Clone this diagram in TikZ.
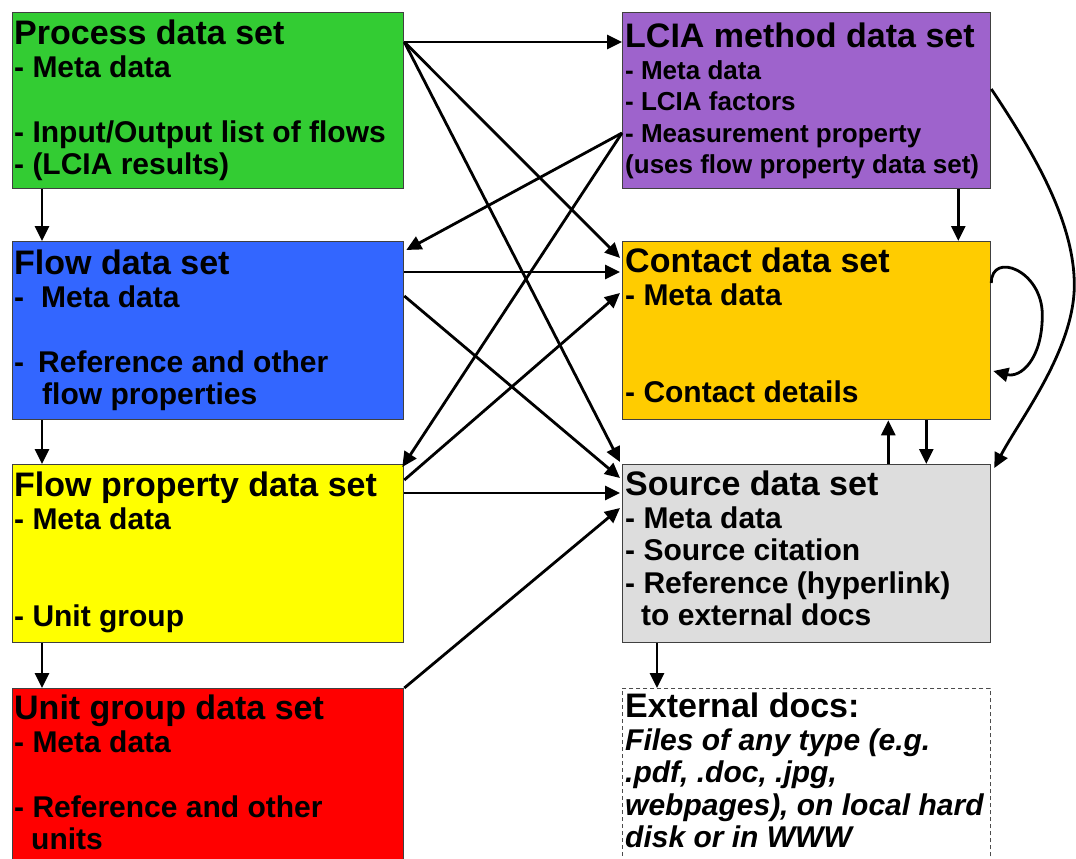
\documentclass[tikz,border=0pt]{standalone}
\usepackage{fontspec}
\setmainfont{Liberation Sans}
\usetikzlibrary{arrows.meta,positioning}
\definecolor{procgreen}{HTML}{33CC33}
\definecolor{flowblue}{HTML}{3366FF}
\definecolor{propyellow}{HTML}{FFFF00}
\definecolor{unitred}{HTML}{FF0000}
\definecolor{lciapurple}{HTML}{9E63CC}
\definecolor{contactgold}{HTML}{FFCC00}
\definecolor{sourcegray}{HTML}{DDDDDD}
\newcommand{\dstitle}[1]{{\fontsize{34}{34}\selectfont #1}}

\begin{document}
\begin{tikzpicture}[x=1pt,y=1pt]
                \tikzstyle{dsbox}=[draw=black!75, line width=1.3pt, anchor=north west, inner sep=0pt, minimum width=391pt]
                \tikzstyle{rbox}=[dsbox, minimum width=368pt]
                \tikzstyle{dstext}=[inner sep=0pt, align=left, font=\fontsize{30}{32.5}\selectfont\bfseries]
                \tikzstyle{arr}=[black, line width=2.8pt, -{Triangle[length=15pt,width=14pt]}]
                \useasboundingbox (0,0) rectangle (1076,-859);
                \node [dsbox, fill=procgreen, minimum height=176pt] (proc) at (12,-12) {};
                \node [dsbox, fill=flowblue, minimum height=178pt] (flow) at (12,-241) {};
                \node [dsbox, fill=propyellow, minimum height=178pt] (fprop) at (12,-464) {};
                \node [dsbox, fill=unitred, minimum height=185pt] (unit) at (12,-688) {};
                \node [rbox, fill=lciapurple, minimum height=176pt] (lcia) at (622,-12) {};
                \node [rbox, fill=contactgold, minimum height=178pt] (contact) at (622,-241) {};
                \node [rbox, fill=sourcegray, minimum height=178pt] (source) at (622,-464) {};
                \node [rbox, draw=black!70, line width=0.9pt, dash pattern=on 4pt off 3pt, minimum height=185pt] (ext) at (622,-688) {};
                \node [dstext, below right=8pt and 2pt of proc.north west] (proctxt) {\dstitle{Process data set}\\- Meta data\\[32.5pt]- Input/Output list of flows\\- (LCIA results)};
                \node [dstext, below right=9pt and 2pt of flow.north west] (flowtxt) {\dstitle{Flow data set}\\-\hspace{17pt}Meta data\\[32.5pt]-\hspace{14pt}Reference and other\\\hspace{28pt}flow properties};
                \node [dstext, below right=8pt and 2pt of fprop.north west] (fproptxt) {\dstitle{Flow property data set}\\- Meta data\\[65pt]- Unit group};
                \node [dstext, below right=7pt and 2pt of unit.north west] (unittxt) {\dstitle{Unit group data set}\\- Meta data\\[32.5pt]- Reference and other\\\hspace{17pt}units};
                \node [dstext, font=\fontsize{26}{31.5}\selectfont\bfseries, below right=11pt and 3pt of lcia.north west] (lciatxt) {\dstitle{LCIA method data set}\\- Meta data\\- LCIA factors\\- Measurement property\\(uses flow property data set)};
                \node [dstext, below right=7pt and 3pt of contact.north west] (contacttxt) {\dstitle{Contact data set}\\- Meta data\\[65pt]- Contact details};
                \node [dstext, below right=7pt and 3pt of source.north west] (sourcetxt) {\dstitle{Source data set}\\- Meta data\\- Source citation\\- Reference (hyperlink)\\\hspace{16pt}to external docs};
                \node [dstext, below right=5pt and 3pt of ext.north west] (exttxt) {\dstitle{External docs:}\\\itshape Files of any type (e.g.\\\itshape .pdf, .doc, .jpg,\\\itshape webpages), on local hard\\\itshape disk or in WWW};
                \draw [arr] ([xshift=30pt]proc.south west) -- ([xshift=30pt]flow.north west);
                \draw [arr] ([xshift=30pt]flow.south west) -- ([xshift=30pt]fprop.north west);
                \draw [arr] ([xshift=30pt]fprop.south west) -- ([xshift=30pt]unit.north west);
                \draw [arr] ([yshift=-30pt]proc.north east) -- ([yshift=-30pt]lcia.north west);
                \draw [arr] ([yshift=-30pt]proc.north east) -- ([xshift=-2pt,yshift=-17pt]contact.north west);
                \draw [arr] ([yshift=-30pt]proc.north east) -- ([xshift=-2pt,yshift=2pt]source.north west);
                \draw [arr] ([yshift=-121pt]lcia.north west) -- ([xshift=2pt,yshift=-9pt]flow.north east);
                \draw [arr] ([yshift=-121pt]lcia.north west) -- ([xshift=-2pt,yshift=-3pt]fprop.north east);
                \draw [arr] ([yshift=-31pt]flow.north east) -- ([xshift=-2pt,yshift=-31pt]contact.north west);
                \draw [arr] ([yshift=-55pt]flow.north east) -- ([xshift=-2pt,yshift=-14pt]source.north west);
                \draw [arr] ([yshift=-16pt]fprop.north east) -- ([xshift=-2pt,yshift=-52pt]contact.north west);
                \draw [arr] ([yshift=-29pt]fprop.north east) -- ([xshift=-2pt,yshift=-29pt]source.north west);
                \draw [arr] (unit.north east) -- ([xshift=-2pt,yshift=-44pt]source.north west);
                \draw [arr] ([xshift=-33pt]lcia.south east) -- ([xshift=-33pt]contact.north east);
                \draw [arr] ([xshift=-103pt]source.north east) -- ([xshift=-103pt]contact.south east);
                \draw [arr] ([xshift=-65pt]contact.south east) -- ([xshift=-65pt]source.north east);
                \draw [arr] ([xshift=35pt]source.south west) -- ([xshift=35pt]ext.north west);
                \draw [arr] ([yshift=-42pt]contact.north east) .. controls +(0,32) and +(0,45) .. ++(51,-32) .. controls +(0,-45) and +(27,-7) .. ([xshift=2pt,yshift=-130pt]contact.north east);
                \draw [arr] ([yshift=-77pt]lcia.north east) .. controls +(40,-60) and +(0,65) .. ++(83,-196) .. controls +(0,-65) and +(25,48) .. ([xshift=3pt,yshift=-4pt]source.north east);
\end{tikzpicture}
\end{document}
